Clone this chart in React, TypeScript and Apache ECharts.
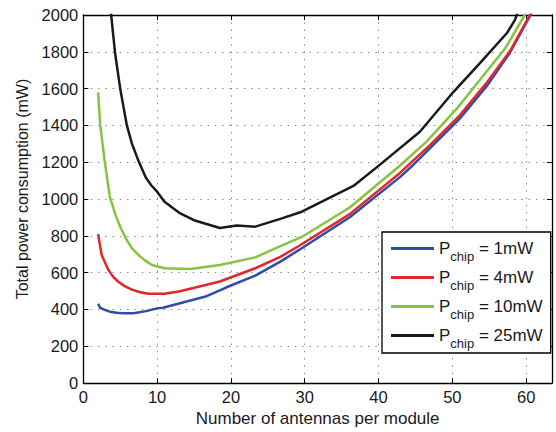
import React, { useEffect, useRef } from "react";
import * as echarts from "echarts";

const seriesNames = ["P_chip = 1mW", "P_chip = 4mW", "P_chip = 10mW", "P_chip = 25mW"];
const legendValues = ["1mW", "4mW", "10mW", "25mW"];
const seriesColors = ["#2E4DA7", "#E3262B", "#86C43F", "#1A1A1A"];

const blueData: [number, number][] = [
  [2, 430], [2.3, 409], [2.9, 398], [3.6, 388], [4.5, 382], [5.4, 379], [6.8, 379], [8.5, 391],
  [10, 406], [10.8, 409], [13.1, 434], [16.7, 472], [18.5, 504], [19.9, 529],
  [23.3, 584], [26.7, 660], [29.8, 738], [36.1, 901], [42.9, 1119], [44.5, 1178],
  [51, 1437], [54.7, 1616], [57.8, 1795], [60.6, 2000], [61, 2030],
];
const redData: [number, number][] = [
  [2, 810], [2.5, 695], [3.4, 615], [4, 580], [4.7, 552], [5.6, 527], [6.6, 508], [7.6, 495],
  [8.8, 486], [11, 486], [13.1, 499], [18.5, 552], [23.3, 624], [26.7, 686], [29.2, 745],
  [36.1, 918], [42.9, 1142], [47, 1294], [51, 1455], [54.7, 1634], [57.8, 1803], [60.5, 2000], [61, 2030],
];
const greenData: [number, number][] = [
  [2, 1580], [2.3, 1400], [2.9, 1205], [3.6, 1010], [4.4, 910], [5.1, 840], [5.9, 776],
  [6.6, 732], [7.5, 695], [8.3, 668], [9.3, 642], [11, 624], [14.5, 620], [18.5, 642],
  [23.3, 683], [26.7, 744], [29.6, 794], [36.1, 954], [42.8, 1178], [46.5, 1312],
  [50.6, 1491], [53.8, 1651], [57.2, 1821], [59.8, 2000], [60.3, 2030],
];
const blackData: [number, number][] = [
  [3.7, 2030], [4.3, 1795], [5, 1600], [5.9, 1400], [6.6, 1300], [7.5, 1205], [8.5, 1115],
  [9.2, 1075], [10, 1040], [11, 985], [13, 925], [15, 885], [18.5, 843], [20.8, 856],
  [23.3, 850], [26.7, 892], [29.4, 928], [36.6, 1071], [40.2, 1187], [45.6, 1366],
  [50.1, 1580], [53.8, 1741], [57.4, 1902], [58.5, 1975], [59, 2030],
];
const allData = [blueData, redData, greenData, blackData];

const xMin = 0;
const xMax = 63.5;
const xInterval = 10;
const yMin = 0;
const yMax = 2000;
const yInterval = 200;

const FONT = "'Liberation Sans', Arial, Helvetica, sans-serif";

export default function App() {
  const ref = useRef<HTMLDivElement>(null);
  useEffect(() => {
    if (!ref.current) return;
    const chart = echarts.init(ref.current, null, { renderer: "svg" });
    const gridLine = { show: true, lineStyle: { color: "#8a8a8a", width: 1, type: [1.5, 5.8] as any } };
    const tickIn = { show: true, inside: true, length: 5, lineStyle: { color: "#000", width: 1 } };
    const axisLn = { show: true, onZero: false, lineStyle: { color: "#000", width: 1.3 } };
    const xFmt = (v: number) => (Math.abs(v % xInterval) < 1e-9 ? String(v) : "");
    chart.setOption({
      animation: false,
      backgroundColor: "#fff",
      textStyle: { fontFamily: FONT },
      grid: { left: 83.3, right: 4, top: 15, bottom: 44, containLabel: false },
      xAxis: [
        {
          type: "value", min: xMin, max: xMax, interval: xInterval, position: "bottom",
          axisLine: axisLn, axisTick: tickIn, splitLine: gridLine,
          axisLabel: { formatter: xFmt, color: "#1a1a1a", fontSize: 16.5, margin: 5, fontFamily: FONT },
          name: "Number of antennas per module", nameLocation: "middle", nameGap: 25,
          nameTextStyle: { fontSize: 17, color: "#1a1a1a", fontFamily: FONT },
        },
        {
          type: "value", min: xMin, max: xMax, interval: xInterval, position: "top",
          axisLine: axisLn, axisTick: tickIn, splitLine: { show: false }, axisLabel: { show: false },
        },
      ],
      yAxis: [
        {
          type: "value", min: yMin, max: yMax, interval: yInterval, position: "left",
          axisLine: axisLn, axisTick: tickIn, splitLine: gridLine,
          axisLabel: { formatter: (v: number) => String(v), color: "#1a1a1a", fontSize: 16.5, margin: 5, fontFamily: FONT },
          name: "Total power consumption (mW)", nameLocation: "middle", nameGap: 47,
          nameTextStyle: { fontSize: 16, color: "#1a1a1a", fontFamily: FONT, padding: [0, 0, 0, 20] },
        },
        {
          type: "value", min: yMin, max: yMax, interval: yInterval, position: "right",
          axisLine: axisLn, axisTick: tickIn, splitLine: { show: false }, axisLabel: { show: false },
        },
      ],
      legend: {
        orient: "vertical", left: 382, top: 232, padding: [2, 8, 3, 9], itemGap: 0,
        itemWidth: 43, itemHeight: 3, icon: "rect",
        borderColor: "#000", borderWidth: 1.3, backgroundColor: "#fff",
        data: seriesNames,
        formatter: (name: string) => {
          const i = seriesNames.indexOf(name);
          return `{p|P}{s|chip}{t| = ${legendValues[i]}}`;
        },
        textStyle: {
          fontFamily: FONT, color: "#1a1a1a", fontSize: 17,
          rich: {
            p: { fontSize: 17, fontFamily: FONT, color: "#1a1a1a" },
            s: { fontSize: 13, fontFamily: FONT, color: "#1a1a1a", lineHeight: 15, padding: [16, 0, 0, 0] },
            t: { fontSize: 17, fontFamily: FONT, color: "#1a1a1a" },
          },
        },
      },
      series: seriesNames.map((n, i) => ({
        name: n, type: "line", xAxisIndex: 0, yAxisIndex: 0, data: allData[i],
        showSymbol: false, symbol: "none", clip: true,
        lineStyle: { color: seriesColors[i], width: 2.5 },
        itemStyle: { color: seriesColors[i] }, color: seriesColors[i],
      })),
    });
    return () => chart.dispose();
  }, []);
  return <div ref={ref} style={{ position: "fixed", left: 0, top: 0, width: 556, height: 432 }} />;
}
